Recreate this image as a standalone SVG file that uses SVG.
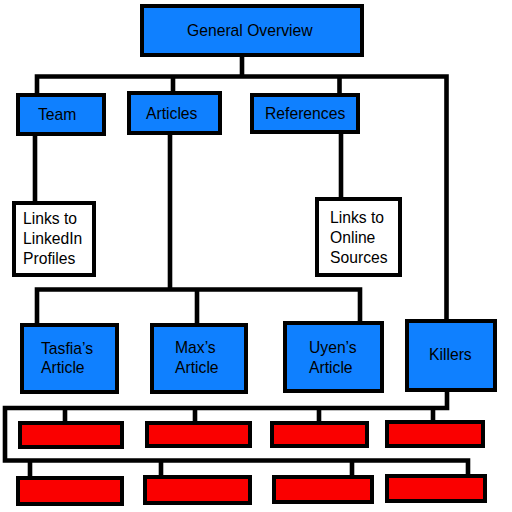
<svg xmlns="http://www.w3.org/2000/svg" width="512" height="512" viewBox="0 0 512 512">
<style>
.blue{fill:#0f80ff;stroke:#000;stroke-width:4}
.white{fill:#fff;stroke:#000;stroke-width:4}
.red{fill:#fa0000;stroke:#000;stroke-width:4}
.ln{fill:none;stroke:#000;stroke-width:4.6;stroke-linejoin:miter}
text{font-family:"Liberation Sans",Arial,sans-serif;font-size:15.7px;fill:#000}
</style>
<rect width="512" height="512" fill="#fff"/>
<g id="connectors">
<path class="ln" d="M242 57V76.5"/>
<path class="ln" d="M37 93V76.5H446.5V319"/>
<path class="ln" d="M173 76.5V91"/>
<path class="ln" d="M339.5 76.5V93"/>
<path class="ln" d="M35 136V201"/>
<path class="ln" d="M341 134V197"/>
<path class="ln" d="M170 135V289.5"/>
<path class="ln" d="M37 323V289.5H360V321"/>
<path class="ln" d="M197 289.5V323"/>
<path class="ln" d="M447 392V408H5V460.5H468V475"/>
<path class="ln" d="M65 408V421M195 408V421M319 408V421M433 408V420"/>
<path class="ln" d="M30 460.5V476M161 460.5V475M352 460.5V475"/>
</g>
<g id="general-overview"><rect class="blue" x="142" y="6" width="220" height="49"/><text x="187" y="36">General Overview</text></g>
<g id="team"><rect class="blue" x="18" y="95" width="86" height="39"/><text x="38" y="120">Team</text></g>
<g id="articles"><rect class="blue" x="129" y="93" width="91" height="40"/><text x="146" y="119">Articles</text></g>
<g id="references"><rect class="blue" x="252" y="95" width="106" height="37"/><text x="265" y="119">References</text></g>
<g id="linkedin"><rect class="white" x="14" y="203" width="80" height="72"/><text x="23" y="224">Links to</text><text x="23" y="244">LinkedIn</text><text x="23" y="264">Profiles</text></g>
<g id="online"><rect class="white" x="317" y="199" width="83" height="76"/><text x="330" y="223">Links to</text><text x="330" y="243">Online</text><text x="330" y="263">Sources</text></g>
<g id="tasfia"><rect class="blue" x="22" y="325" width="95" height="67"/><text x="41" y="354">Tasfia’s</text><text x="41" y="373">Article</text></g>
<g id="max"><rect class="blue" x="152" y="325" width="94" height="67"/><text x="175" y="353">Max’s</text><text x="175" y="373">Article</text></g>
<g id="uyen"><rect class="blue" x="285" y="323" width="97" height="68"/><text x="309" y="353">Uyen’s</text><text x="309" y="373">Article</text></g>
<g id="killers"><rect class="blue" x="407" y="321" width="88" height="69"/><text x="429" y="360">Killers</text></g>
<g id="r1"><rect class="red" x="20" y="423" width="102" height="24"/></g>
<g id="r2"><rect class="red" x="147" y="423" width="103" height="23"/></g>
<g id="r3"><rect class="red" x="272" y="423" width="95" height="23"/></g>
<g id="r4"><rect class="red" x="387" y="422" width="96" height="24"/></g>
<g id="b1"><rect class="red" x="18" y="478" width="104" height="26"/></g>
<g id="b2"><rect class="red" x="145" y="477" width="105" height="26"/></g>
<g id="b3"><rect class="red" x="274" y="477" width="98" height="25"/></g>
<g id="b4"><rect class="red" x="387" y="476" width="98" height="25"/></g>
</svg>
